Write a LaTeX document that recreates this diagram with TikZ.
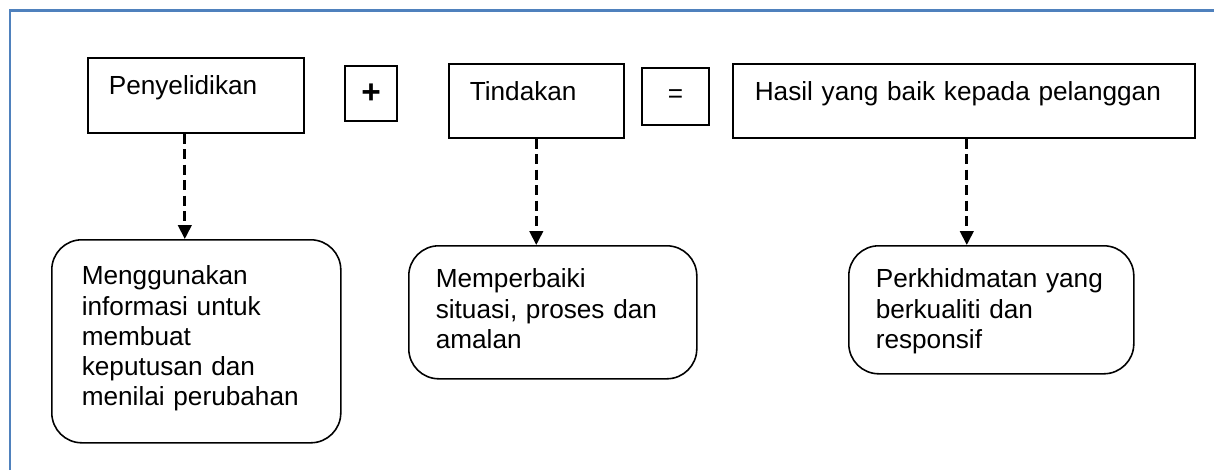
\documentclass[tikz,border=0pt]{standalone}
\usepackage{fontspec}
\setmainfont{Liberation Sans}
\usepackage{xcolor}
\usetikzlibrary{positioning}
\usetikzlibrary{arrows.meta}
\definecolor{frameblue}{HTML}{4F81BD}

\begin{document}
\begin{tikzpicture}[>={Triangle[length=0.28cm,width=0.27cm]},
	font=\fontsize{14.9}{17.2}\selectfont,
	kotak/.style={draw,line width=0.9pt,anchor=north west,align=left,inner ysep=0pt},
	bulat/.style={kotak,rounded corners=0.6cm},
	tanda/.style={draw,line width=0.9pt,inner sep=0pt},
	panah/.style={->,line width=1.6pt,dash pattern=on 0.2cm off 0.11cm}] % rajah hasil
	\useasboundingbox (0,0) rectangle (24.28,-9.4);
	\draw[frameblue,line width=1.7pt] (0.2,-9.4) -- (0.2,-0.2) -- (24.28,-0.2);
	
	\node[kotak,text width=3.48cm,inner xsep=0.42cm,text height=0.73cm,text depth=0.77cm]
	(pen) at (1.74,-1.14) {Penyelidikan};
	\node[tanda,minimum width=1.04cm,minimum height=1.1cm]
	(tambah) at (7.42,-1.87) {\raisebox{-0.1cm}{\fontsize{19}{19}\selectfont\bfseries +}};
	\node[kotak,text width=2.66cm,inner xsep=0.42cm,text height=0.73cm,text depth=0.75cm]
	(tin) at (8.96,-1.26) {Tindakan};
	\node[tanda,minimum width=1.34cm,minimum height=1.14cm]
	(sama) at (13.51,-1.93) {=};
	\node[kotak,text width=8.36cm,inner xsep=0.44cm,text height=0.73cm,text depth=0.75cm]
	(has) at (14.64,-1.26) {\mbox{Hasil yang baik kepada pelanggan}};
	
	\node[bulat,text width=4.58cm,inner xsep=0.6cm,text height=0.9cm,text depth=3.16cm]
	(guna) at (1.02,-4.78) {Menggunakan\\informasi untuk\\membuat\\keputusan dan\\menilai perubahan};
	\node[bulat,text width=4.68cm,inner xsep=0.54cm,text height=0.84cm,text depth=1.82cm]
	(baiki) at (8.16,-4.90) {Memperbaiki\\situasi, proses dan\\amalan};
	\node[bulat,text width=4.62cm,inner xsep=0.54cm,text height=0.84cm,text depth=1.72cm]
	(layan) at (16.96,-4.90) {\mbox{Perkhidmatan yang}\\berkualiti dan\\responsif};
	
	\foreach \a/\b/\s in {pen/guna/-0.22,tin/baiki/0,has/layan/0.06}{
		\draw[panah] ([xshift=\s cm]\a.south) -- ([xshift=\s cm]\a.south |- \b.north);}
\end{tikzpicture}
\end{document}
